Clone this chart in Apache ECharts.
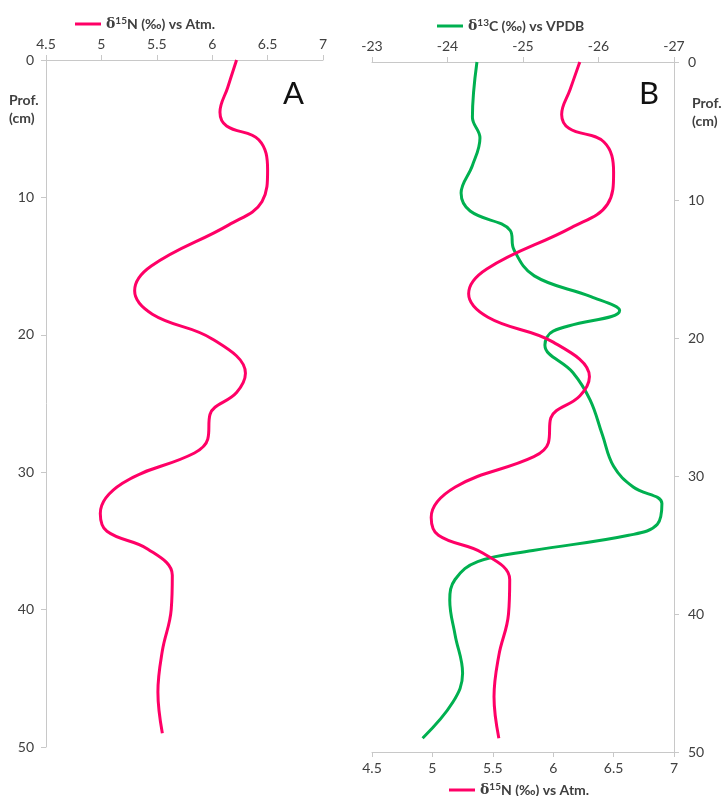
<!DOCTYPE html>
<html>
<head>
<meta charset="utf-8">
<script src="https://cdn.jsdelivr.net/npm/echarts@6/dist/echarts.min.js"></script>
<style>
  html, body { margin: 0; padding: 0; background: #fff; }
  #chart { width: 721px; height: 796px; }
</style>
</head>
<body>
<div id="chart"></div>
<script>
// δ15N profile (‰ vs Atm.) by depth (cm)
const depthN = [0, 2, 3.8, 4.8, 5.8, 8, 10.3, 12, 15, 16.8, 18.5, 20.3, 22.8, 24.2, 25.8, 27.6, 28.6, 30.8, 33, 34.3, 35.6, 37.5, 40, 43, 46, 49];
const n15 = [6.22, 6.14, 6.07, 6.13, 6.42, 6.50, 6.45, 6.15, 5.45, 5.30, 5.46, 6.00, 6.30, 6.22, 5.98, 5.96, 5.84, 5.19, 4.99, 5.05, 5.42, 5.64, 5.63, 5.55, 5.51, 5.55];

// δ13C profile (‰ vs VPDB) by depth (cm)
const depthC = [0, 4, 5.5, 7.5, 9.5, 10.8, 12.2, 13.6, 15.5, 17, 18, 19.5, 20.5, 22.5, 24.5, 27, 29.3, 30.8, 32, 33.5, 34.3, 35.4, 36.2, 37.5, 39, 41.5, 44.3, 46.4, 49];
const c13 = [-24.39, -24.33, -24.43, -24.33, -24.18, -24.30, -24.83, -24.88, -25.15, -25.90, -26.28, -25.40, -25.29, -25.66, -25.89, -26.05, -26.20, -26.46, -26.84, -26.78, -26.40, -25.13, -24.40, -24.10, -24.03, -24.10, -24.20, -24.07, -23.67];

// Axis ranges and ticks
const nRange = [4.5, 7];
const cRange = [-27, -23];
const depthRange = [0, 50];

const PINK = '#ff0066';
const GREEN = '#00b050';
const FONT = 'Lato, "Open Sans", sans-serif';
const TXT = '#404040';
const AXIS = '#c8c8c8';

const N_NAME = 'δ15N (‰) vs Atm.';
const C_NAME = 'δ13C (‰) vs VPDB';

const pair = (ds, vs) => ds.map((d, i) => [vs[i], d]);

const axisCommon = {
  type: 'value',
  axisLine: { show: true, lineStyle: { color: AXIS, width: 1 } },
  axisTick: { show: true, length: 5, lineStyle: { color: AXIS } },
  splitLine: { show: false },
  axisLabel: { color: TXT, fontFamily: FONT, fontSize: 14 }
};

const legendText = {
  color: TXT,
  fontFamily: FONT,
  fontSize: 14,
  fontWeight: 'bold',
  rich: {
    d: { fontFamily: 'DejaVu Serif, serif', fontSize: 14, color: TXT },
    s: { fontSize: 10, fontWeight: 'bold', color: TXT, verticalAlign: 'top', padding: [0, 0, 6, 0], fontFamily: FONT },
    t: { fontSize: 14, fontWeight: 'bold', color: TXT, fontFamily: FONT }
  }
};
const legendFmt = name => {
  const iso = name.slice(1, 3);
  return '{d|δ}{s|' + iso + '}{t|' + name.slice(3) + '}';
};

const chart = echarts.init(document.getElementById('chart'), null, { renderer: 'canvas' });

chart.setOption({
  backgroundColor: '#fff',
  animation: false,
  legend: [
    { data: [N_NAME], left: 70, top: 11, itemWidth: 26, itemHeight: 3, icon: 'rect', itemGap: 8, formatter: legendFmt, textStyle: legendText },
    { data: [C_NAME], left: 432, top: 13, itemWidth: 26, itemHeight: 3, icon: 'rect', formatter: legendFmt, textStyle: legendText },
    { data: [N_NAME], left: 444, top: 777, itemWidth: 26, itemHeight: 3, icon: 'rect', formatter: legendFmt, textStyle: legendText }
  ],
  grid: [
    { left: 46, top: 60, width: 277, height: 687 },
    { left: 372, top: 62, width: 302, height: 690 }
  ],
  xAxis: [
    Object.assign({}, axisCommon, {
      gridIndex: 0, position: 'top', min: nRange[0], max: nRange[1], interval: 0.5,
      axisLabel: Object.assign({}, axisCommon.axisLabel, { margin: 9 })
    }),
    Object.assign({}, axisCommon, {
      gridIndex: 1, position: 'top', min: cRange[0], max: cRange[1], interval: 1, inverse: true,
      axisLabel: Object.assign({}, axisCommon.axisLabel, { margin: 9 })
    }),
    Object.assign({}, axisCommon, {
      gridIndex: 1, position: 'bottom', min: nRange[0], max: nRange[1], interval: 0.5,
      axisLabel: Object.assign({}, axisCommon.axisLabel, { margin: 9 })
    })
  ],
  yAxis: [
    Object.assign({}, axisCommon, {
      gridIndex: 0, position: 'left', min: depthRange[0], max: depthRange[1], interval: 10, inverse: true,
      axisLabel: Object.assign({}, axisCommon.axisLabel, { margin: 12 })
    }),
    Object.assign({}, axisCommon, {
      gridIndex: 1, position: 'right', min: depthRange[0], max: depthRange[1], interval: 10, inverse: true,
      axisLabel: Object.assign({}, axisCommon.axisLabel, { margin: 14 })
    })
  ],
  series: [
    {
      name: N_NAME, type: 'line', xAxisIndex: 0, yAxisIndex: 0,
      data: pair(depthN, n15), smooth: 0.4, showSymbol: false,
      lineStyle: { color: PINK, width: 3 }, itemStyle: { color: PINK }
    },
    {
      name: C_NAME, type: 'line', xAxisIndex: 1, yAxisIndex: 1,
      data: pair(depthC, c13), smooth: 0.4, showSymbol: false,
      lineStyle: { color: GREEN, width: 3 }, itemStyle: { color: GREEN }
    },
    {
      name: N_NAME, type: 'line', xAxisIndex: 2, yAxisIndex: 1,
      data: pair(depthN, n15), smooth: 0.4, showSymbol: false,
      lineStyle: { color: PINK, width: 3 }, itemStyle: { color: PINK }
    }
  ],
  graphic: [
    { type: 'text', left: 9, top: 91, style: { text: 'Prof.\n(cm)', font: 'bold 14px ' + FONT, fill: TXT, lineHeight: 18 } },
    { type: 'text', left: 692, top: 94, style: { text: 'Prof.\n(cm)', font: 'bold 14px ' + FONT, fill: TXT, lineHeight: 18 } },
    { type: 'text', left: 283, top: 78, style: { text: 'A', font: '31px ' + FONT, fill: '#111' } },
    { type: 'text', left: 639, top: 78, style: { text: 'B', font: '31px ' + FONT, fill: '#111' } }
  ]
});
</script>
</body>
</html>
